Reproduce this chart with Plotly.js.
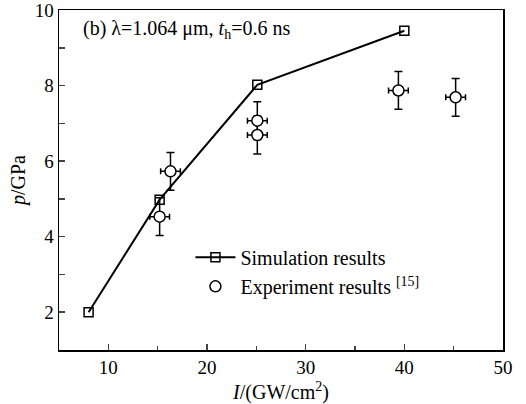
<!DOCTYPE html>
<html><head><meta charset="utf-8">
<script src="https://cdn.plot.ly/plotly-3.0.1.min.js"></script>
<style>html,body{margin:0;padding:0;background:#fff}#chart{width:526px;height:404px}</style>
</head><body><div id="chart"></div>
<script>
const simX = [8, 15.2, 25.1, 40];
const simY = [2.0, 4.98, 8.02, 9.45];
const expX = [15.2, 16.3, 25.1, 25.1, 39.4, 45.2];
const expY = [4.53, 5.73, 7.07, 6.69, 7.87, 7.69];
const expErrX = [1.0, 1.0, 1.0, 1.0, 1.0, 1.0];
const expErrY = [0.5, 0.5, 0.5, 0.5, 0.5, 0.5];
const xTickVals = [10, 20, 30, 40, 50];
const yTickVals = [2, 4, 6, 8, 10];

const F = '"Liberation Serif"';
const traces = [
  {x: simX, y: simY, type: 'scatter', mode: 'lines+markers', name: 'Simulation results',
   line: {color: '#000', width: 2},
   marker: {symbol: 'square-open', size: 9, color: '#000', line: {width: 1.5}}},
  {x: expX, y: expY, type: 'scatter', mode: 'markers', name: 'Experiment results <sup>[15]</sup>',
   marker: {symbol: 'circle', size: 11, color: '#fff', line: {color: '#000', width: 1.5}},
   error_x: {type: 'data', array: expErrX, color: '#000', thickness: 1.5, width: 3},
   error_y: {type: 'data', array: expErrY, color: '#000', thickness: 1.5, width: 4}}
];
const layout = {
  width: 526, height: 404,
  margin: {l: 59, r: 23, t: 10, b: 54},
  paper_bgcolor: '#fff', plot_bgcolor: '#fff',
  font: {family: F, size: 18, color: '#000'},
  showlegend: true,
  legend: {x: 0.296, y: 0.33, xanchor: 'left', yanchor: 'top', bgcolor: 'rgba(0,0,0,0)', itemwidth: 40,
           font: {family: F, size: 20, color: '#000'}, tracegroupgap: 0},
  xaxis: {range: [5, 50], tickvals: xTickVals, ticks: 'inside', ticklen: 6, tickwidth: 1.5,
          showline: true, linecolor: '#000', linewidth: 1.5, mirror: true, showgrid: false, zeroline: false,
          ticklabeloverflow: 'allow',
          minor: {dtick: 5, tick0: 5, ticks: 'inside', ticklen: 4, tickwidth: 1.5, showgrid: false},
          tickfont: {family: F, size: 19},
          title: {text: '<i>I</i>/(GW/cm<sup>2</sup>)', font: {family: F, size: 20}, standoff: 8}},
  yaxis: {range: [1, 10], tickvals: yTickVals, ticks: 'inside', ticklen: 6, tickwidth: 1.5,
          showline: true, linecolor: '#000', linewidth: 1.5, mirror: true, showgrid: false, zeroline: false,
          ticklabeloverflow: 'allow',
          minor: {dtick: 1, tick0: 1, ticks: 'inside', ticklen: 6, tickwidth: 1.5, showgrid: false},
          tickfont: {family: F, size: 19},
          title: {text: '<i>p</i>/GPa', font: {family: F, size: 20}, standoff: 3}},
  annotations: [{xref: 'paper', yref: 'paper', x: 0.05, y: 0.985, xanchor: 'left', yanchor: 'top',
    showarrow: false, text: '(b) λ=1.064 μm, <i>t</i><sub>h</sub>=0.6 ns', font: {family: F, size: 20, color: '#000'}}]
};
Plotly.newPlot('chart', traces, layout, {displayModeBar: false, staticPlot: true});
</script></body></html>
